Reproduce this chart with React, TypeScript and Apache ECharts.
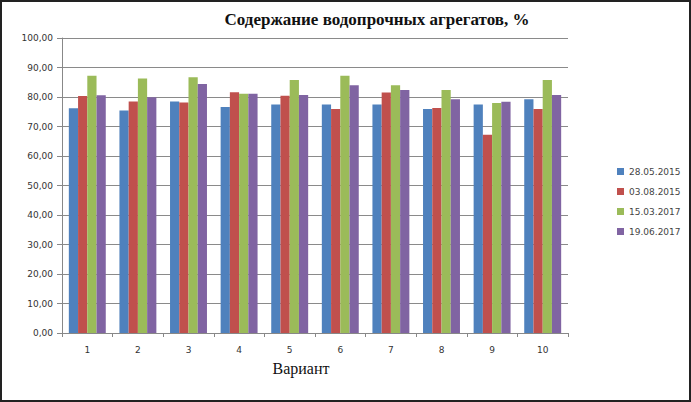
import React, { useEffect, useRef } from "react";
import * as echarts from "echarts";

const categories = ["1", "2", "3", "4", "5", "6", "7", "8", "9", "10"];
const seriesNames = ["28.05.2015", "03.08.2015", "15.03.2017", "19.06.2017"];
const s1 = [76.2, 75.4, 78.5, 76.6, 77.5, 77.5, 77.5, 75.9, 77.5, 79.2];
const s2 = [80.3, 78.5, 78.1, 81.6, 80.4, 75.9, 81.5, 76.3, 67.2, 75.9];
const s3 = [87.2, 86.3, 86.7, 81.1, 85.8, 87.2, 84.0, 82.4, 78.0, 85.8];
const s4 = [80.6, 79.9, 84.4, 81.1, 80.7, 84.0, 82.4, 79.2, 78.4, 80.7];
const colors = ["#4F81BD", "#C0504D", "#9BBB59", "#8064A2"];

export default function App() {
  const ref = useRef<HTMLDivElement>(null);
  useEffect(() => {
    if (!ref.current) return;
    const chart = echarts.init(ref.current, null, { renderer: "svg" });
    const data = [s1, s2, s3, s4];
    chart.setOption({
      animation: false,
      backgroundColor: "#fff",
      title: {
        text: "Содержание водопрочных агрегатов, %",
        left: 372,
        top: 6,
        textAlign: "center",
        textStyle: { fontFamily: "Liberation Serif", fontWeight: "bold", fontSize: 17, color: "#111" },
      },
      legend: {
        orient: "vertical",
        left: 612,
        top: 162,
        itemWidth: 7,
        itemHeight: 7,
        itemGap: 11,
        icon: "rect",
        textStyle: { fontFamily: "DejaVu Sans", fontSize: 9, color: "#444" },
        data: seriesNames,
      },
      grid: { left: 62, right: 123, top: 38, bottom: 69, containLabel: false },
      xAxis: {
        type: "category",
        data: categories,
        axisLine: { lineStyle: { color: "#888" } },
        axisTick: { show: true, alignWithLabel: false, length: 4, lineStyle: { color: "#888" } },
        axisLabel: { fontFamily: "DejaVu Sans", fontSize: 9, color: "#333", margin: 12 },
      },
      yAxis: {
        type: "value",
        min: 0,
        max: 100,
        interval: 10,
        axisLine: { show: true, lineStyle: { color: "#888" } },
        axisTick: { show: true, length: 5, lineStyle: { color: "#888" } },
        axisLabel: {
          fontFamily: "DejaVu Sans",
          fontSize: 9,
          color: "#333",
          margin: 9,
          formatter: (v: number) => v.toFixed(2).replace(".", ","),
        },
        splitLine: { lineStyle: { color: "#8a8a8a", width: 1 } },
      },
      series: seriesNames.map((n, i) => ({
        name: n,
        type: "bar",
        data: data[i],
        itemStyle: { color: colors[i] },
        barGap: "0%",
        barCategoryGap: "27%",
      })),
      graphic: [
        {
          type: "rect",
          shape: { x: 1, y: 1, width: 689, height: 400 },
          style: { fill: "none", stroke: "#222", lineWidth: 2 },
          silent: true,
        },
        {
          type: "text",
          x: 301,
          y: 368,
          style: {
            text: "Вариант",
            font: "16px 'Liberation Serif'",
            fill: "#111",
            align: "center",
            verticalAlign: "middle",
          },
          silent: true,
        },
      ],
    });
    return () => chart.dispose();
  }, []);
  return (
    <div
      ref={ref}
      style={{ position: "fixed", left: 0, top: 0, width: 691, height: 402 }}
    />
  );
}
